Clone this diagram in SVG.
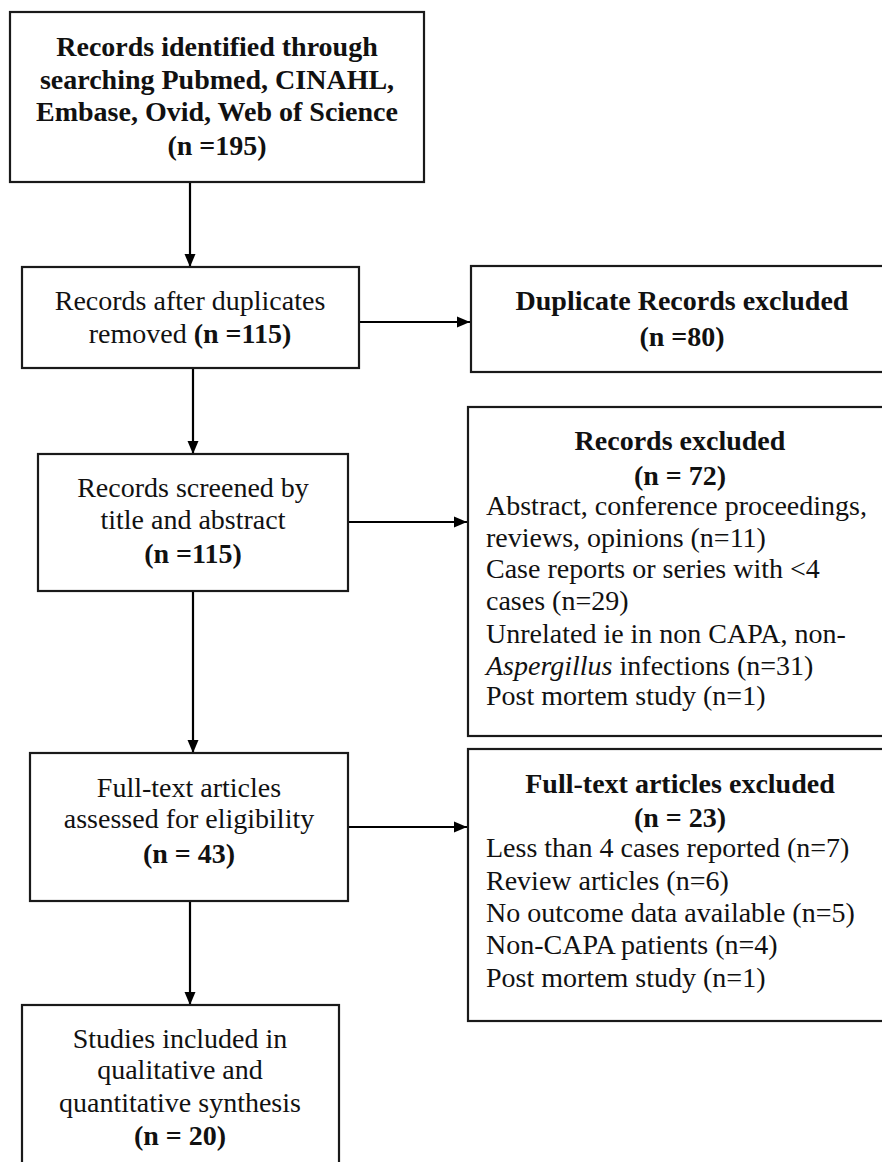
<svg xmlns="http://www.w3.org/2000/svg" width="882" height="1162" viewBox="0 0 882 1162">
<defs>
<marker id="ah" markerUnits="userSpaceOnUse" markerWidth="14" markerHeight="14" viewBox="0 0 14 14" refX="13" refY="7" orient="auto">
<path d="M0,1.5 L13,7 L0,12.5 Z" fill="#000"/>
</marker>
</defs>
<style>
.box{fill:#fff;stroke:#1a1a1a;stroke-width:2.2}
.t{font-family:"Liberation Serif","Times New Roman",serif;font-size:28px;fill:#111}
.c{text-anchor:middle}
.b{font-weight:bold}
.edge{stroke:#000;stroke-width:2.2;fill:none;marker-end:url(#ah)}
</style>
<rect width="882" height="1162" fill="#fff"/>
<g id="connectors">
<line class="edge" x1="190" y1="182" x2="190" y2="267"/>
<line class="edge" x1="359" y1="322" x2="470" y2="322"/>
<line class="edge" x1="193" y1="368" x2="193" y2="454"/>
<line class="edge" x1="348" y1="522" x2="467" y2="522"/>
<line class="edge" x1="193" y1="591" x2="193" y2="753"/>
<line class="edge" x1="348" y1="827" x2="467" y2="827"/>
<line class="edge" x1="190" y1="901" x2="190" y2="1005"/>
</g>
<g id="identified">
<rect class="box" x="10" y="12" width="414" height="170"/>
<text class="t c b" x="217" y="56">Records identified through</text>
<text class="t c b" x="217" y="89">searching Pubmed, CINAHL,</text>
<text class="t c b" x="217" y="121">Embase, Ovid, Web of Science</text>
<text class="t c b" x="217" y="155">(n =195)</text>
</g>
<g id="after-duplicates">
<rect class="box" x="22" y="267" width="337" height="101"/>
<text class="t c" x="190" y="310">Records after duplicates</text>
<text class="t c" x="190" y="343">removed <tspan class="b">(n =115)</tspan></text>
</g>
<g id="duplicates-excluded">
<rect class="box" x="471" y="266" width="420" height="106"/>
<text class="t c b" x="682" y="310">Duplicate Records excluded</text>
<text class="t c b" x="682" y="346">(n =80)</text>
</g>
<g id="screened">
<rect class="box" x="38" y="454" width="310" height="137"/>
<text class="t c" x="193" y="497">Records screened by</text>
<text class="t c" x="193" y="529">title and abstract</text>
<text class="t c b" x="193" y="563">(n =115)</text>
</g>
<g id="records-excluded">
<rect class="box" x="468" y="407" width="423" height="329"/>
<text class="t c b" x="680" y="450">Records excluded</text>
<text class="t c b" x="680" y="485">(n = 72)</text>
<text class="t" x="486" y="515">Abstract, conference proceedings,</text>
<text class="t" x="486" y="547">reviews, opinions (n=11)</text>
<text class="t" x="486" y="578">Case reports or series with &lt;4</text>
<text class="t" x="486" y="610">cases (n=29)</text>
<text class="t" x="486" y="643">Unrelated ie in non CAPA, non-</text>
<text class="t" x="486" y="675"><tspan font-style="italic">Aspergillus</tspan> infections (n=31)</text>
<text class="t" x="486" y="705">Post mortem study (n=1)</text>
</g>
<g id="fulltext-assessed">
<rect class="box" x="30" y="753" width="318" height="148"/>
<text class="t c" x="189" y="797">Full-text articles</text>
<text class="t c" x="189" y="828">assessed for eligibility</text>
<text class="t c b" x="189" y="863">(n = 43)</text>
</g>
<g id="fulltext-excluded">
<rect class="box" x="468" y="749" width="423" height="272"/>
<text class="t c b" x="680" y="793">Full-text articles excluded</text>
<text class="t c b" x="680" y="827">(n = 23)</text>
<text class="t" x="486" y="857">Less than 4 cases reported (n=7)</text>
<text class="t" x="486" y="890">Review articles (n=6)</text>
<text class="t" x="486" y="922">No outcome data available (n=5)</text>
<text class="t" x="486" y="954">Non-CAPA patients (n=4)</text>
<text class="t" x="486" y="987">Post mortem study (n=1)</text>
</g>
<g id="included">
<rect class="box" x="22" y="1005" width="317" height="170"/>
<text class="t c" x="180" y="1048">Studies included in</text>
<text class="t c" x="180" y="1079">qualitative and</text>
<text class="t c" x="180" y="1112">quantitative synthesis</text>
<text class="t c b" x="180" y="1145">(n = 20)</text>
</g>
</svg>
